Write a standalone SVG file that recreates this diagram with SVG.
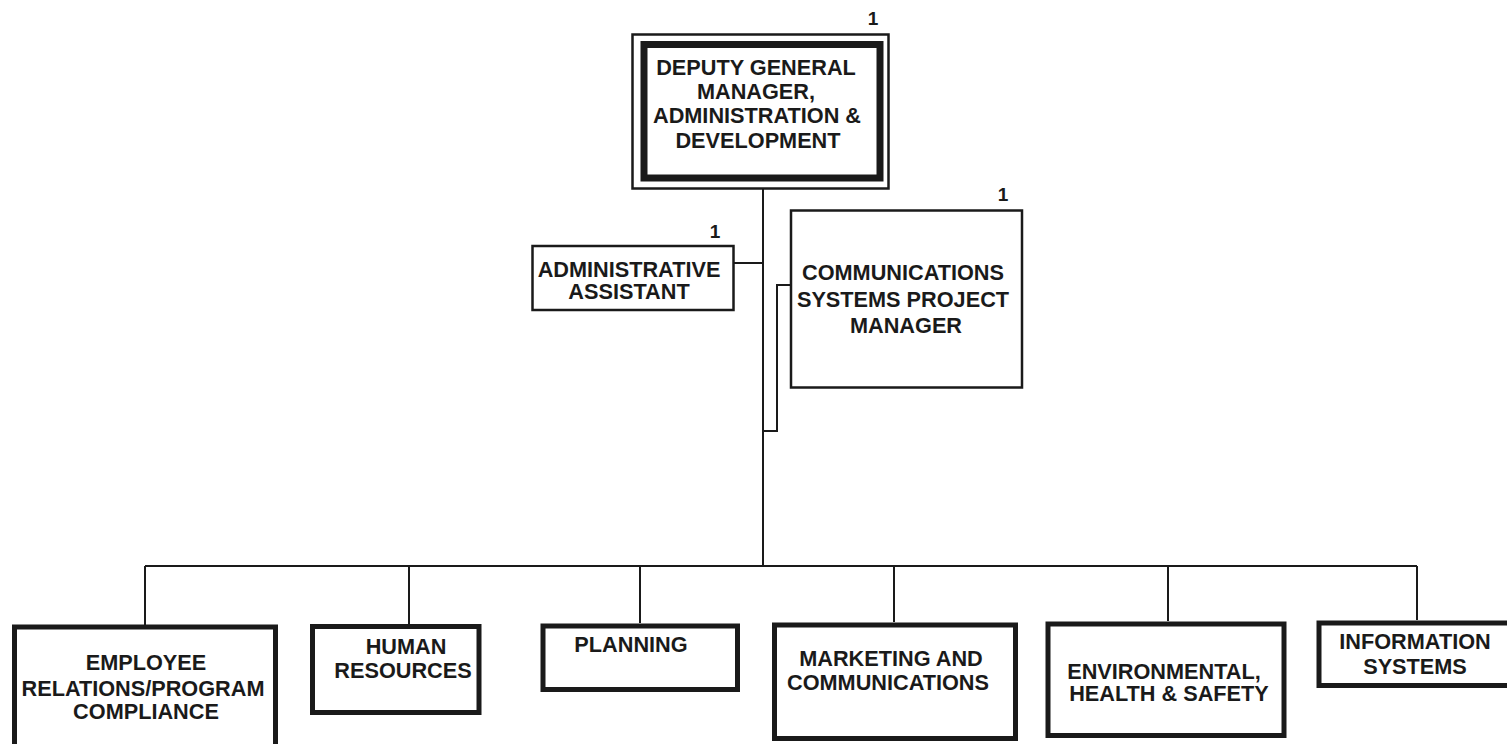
<svg xmlns="http://www.w3.org/2000/svg" width="1507" height="744" viewBox="0 0 1507 744">
<style>
.bg{fill:#ffffff}
.t{font-family:"Liberation Sans",Arial,sans-serif;font-weight:bold;font-size:21.7px;fill:#1a1a1a;text-anchor:middle}
.n{font-family:"Liberation Sans",Arial,sans-serif;font-weight:bold;font-size:19px;fill:#1a1a1a;text-anchor:middle}
.thin{fill:#ffffff;stroke:#1a1a1a;stroke-width:2.5}
.thick{fill:#ffffff;stroke:#1a1a1a;stroke-width:5}
.frame{fill:none;stroke:#1a1a1a;stroke-width:7}
.c{fill:none;stroke:#1a1a1a;stroke-width:2}
</style>
<rect class="bg" x="0" y="0" width="1507" height="744"/>
<g id="connectors">
<path class="c" d="M763,189 V566"/>
<path class="c" d="M733,263 H763"/>
<path class="c" d="M790,285 H777 V431 H763"/>
<path class="c" d="M145,566 H1417"/>
<path class="c" d="M145,566 V625"/>
<path class="c" d="M409,566 V624"/>
<path class="c" d="M640,566 V623"/>
<path class="c" d="M894,566 V622"/>
<path class="c" d="M1168,566 V621"/>
<path class="c" d="M1417,566 V620"/>
</g>
<g id="deputy-gm">
<rect class="thin" x="632.5" y="34.5" width="256" height="154"/>
<rect class="frame" x="644" y="44.5" width="236" height="133.5"/>
<text class="n" x="873" y="25">1</text>
<text class="t" x="756" y="74.5">DEPUTY GENERAL</text>
<text class="t" x="756" y="98.5">MANAGER,</text>
<text class="t" x="757" y="123">ADMINISTRATION &amp;</text>
<text class="t" x="758" y="148">DEVELOPMENT</text>
</g>
<g id="admin-assistant">
<rect class="thin" x="532.5" y="246" width="201" height="64"/>
<text class="n" x="715" y="238">1</text>
<text class="t" x="629" y="277">ADMINISTRATIVE</text>
<text class="t" x="629" y="299">ASSISTANT</text>
</g>
<g id="comms-pm">
<rect class="thin" x="791" y="210.5" width="231" height="177"/>
<text class="n" x="1003" y="201">1</text>
<text class="t" x="903" y="280">COMMUNICATIONS</text>
<text class="t" x="903" y="307">SYSTEMS PROJECT</text>
<text class="t" x="906" y="333">MANAGER</text>
</g>
<g id="employee-relations">
<rect class="thick" x="14.5" y="627" width="261" height="123"/>
<text class="t" x="146" y="670">EMPLOYEE</text>
<text class="t" x="143" y="696">RELATIONS/PROGRAM</text>
<text class="t" x="146" y="719">COMPLIANCE</text>
</g>
<g id="human-resources">
<rect class="thick" x="312.5" y="626.5" width="166.5" height="86"/>
<text class="t" x="406" y="654">HUMAN</text>
<text class="t" x="403" y="678">RESOURCES</text>
</g>
<g id="planning">
<rect class="thick" x="543" y="626" width="194.5" height="63.5"/>
<text class="t" x="631" y="652">PLANNING</text>
</g>
<g id="marketing">
<rect class="thick" x="774.5" y="625" width="241" height="113.5"/>
<text class="t" x="891" y="666">MARKETING AND</text>
<text class="t" x="888" y="690">COMMUNICATIONS</text>
</g>
<g id="ehs">
<rect class="thick" x="1048" y="624" width="236" height="111.5"/>
<text class="t" x="1164" y="679">ENVIRONMENTAL,</text>
<text class="t" x="1169" y="701">HEALTH &amp; SAFETY</text>
</g>
<g id="information-systems">
<rect class="thick" x="1319" y="623" width="193" height="62.5"/>
<text class="t" x="1415" y="649">INFORMATION</text>
<text class="t" x="1415" y="674">SYSTEMS</text>
</g>
</svg>
